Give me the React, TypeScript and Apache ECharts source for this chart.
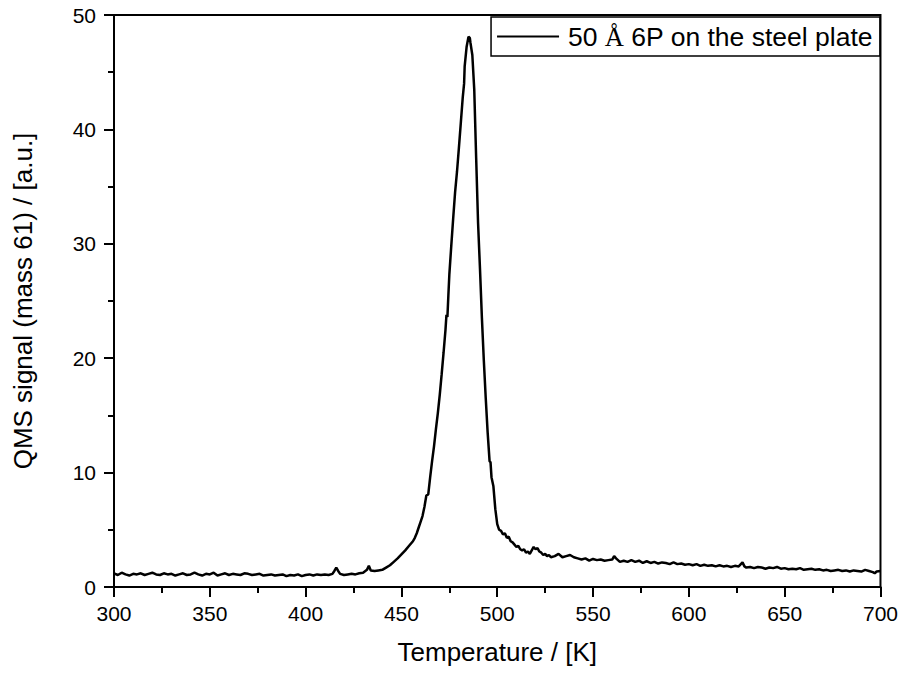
import React, { useEffect, useRef } from "react";
import * as echarts from "echarts";

const temperature: number[] = [
  300, 302, 304, 306, 308, 310, 312, 314, 316, 318, 320, 322, 324, 326, 328, 330, 332, 334, 336, 338,
  340, 342, 344, 346, 348, 350, 352, 354, 356, 358, 360, 362, 364, 366, 368, 370, 372, 374, 376, 378,
  380, 382, 384, 386, 388, 390, 392, 394, 396, 398, 400, 402, 404, 406, 408, 410, 412, 414, 415, 416,
  417, 418, 420, 422, 424, 426, 428, 430, 432, 433, 434, 436, 438, 440, 442, 444, 446, 448, 450, 452,
  454, 456, 457, 458, 459, 460, 461, 462, 463, 464, 465, 466, 467, 468, 469, 470, 471, 472, 473, 473.5,
  474, 474.5, 475, 476, 477, 478, 479, 480, 481, 482, 482.7, 483, 484, 485, 485.7, 486, 487, 488, 489, 490,
  491, 492, 493, 494, 495, 496, 496.5, 497, 498, 499, 500, 501, 502, 503, 504, 505, 506, 507, 508, 509,
  510, 511, 512, 513, 514, 515, 516, 517, 518, 519, 520, 521, 522, 523, 524, 525, 526, 527, 528, 530,
  532, 534, 536, 538, 540, 542, 544, 546, 548, 550, 552, 554, 556, 558, 560, 561, 562, 564, 566, 568,
  570, 572, 574, 576, 578, 580, 582, 584, 586, 588, 590, 592, 594, 596, 598, 600, 602, 604, 606, 608,
  610, 612, 614, 616, 618, 620, 622, 624, 626, 628, 629, 630, 632, 634, 636, 638, 640, 642, 644, 646,
  648, 650, 652, 654, 656, 658, 660, 662, 664, 666, 668, 670, 672, 674, 676, 678, 680, 682, 684, 686,
  688, 690, 692, 694, 696, 697, 698, 700,
];

const signal: number[] = [
  1.2, 1.05, 1.25, 1.1, 1.0, 1.15, 1.1, 1.2, 1.05, 1.15, 1.25, 1.1, 1.05, 1.2, 1.1, 1.15, 1.0, 1.1, 1.2, 1.05,
  1.1, 1.25, 1.1, 1.0, 1.15, 1.1, 1.25, 1.0, 1.1, 1.2, 1.05, 1.15, 1.1, 1.05, 1.2, 1.15, 1.05, 1.1, 1.15, 1.0,
  1.05, 1.1, 1.0, 1.05, 1.1, 0.95, 1.05, 1.0, 1.1, 0.95, 1.05, 1.1, 1.0, 1.1, 1.05, 1.1, 1.05, 1.15, 1.4, 1.7,
  1.4, 1.15, 1.05, 1.1, 1.15, 1.1, 1.2, 1.25, 1.5, 1.85, 1.45, 1.4, 1.45, 1.5, 1.7, 1.9, 2.2, 2.5, 2.85, 3.2,
  3.6, 4.0, 4.3, 4.7, 5.2, 5.7, 6.2, 7.0, 8.0, 8.1, 9.6, 11.0, 12.3, 13.8, 15.2, 16.8, 18.6, 20.5, 22.5, 23.8,
  23.6, 25.5, 27.3, 29.8, 32.2, 34.5, 36.3, 38.4, 40.6, 42.8, 44.0, 45.5, 47.2, 48.1, 48.0, 47.6, 46.5, 43.5, 37.5, 31.8,
  27.8, 23.5, 19.8, 16.5, 13.5, 11.0, 10.9, 9.6, 8.8, 6.8, 5.5, 5.0, 4.9, 4.6, 4.7, 4.3, 4.4, 4.0, 3.9, 3.7,
  3.5, 3.6, 3.3, 3.2, 3.3, 3.0, 3.1, 2.9, 3.2, 3.5, 3.3, 3.4, 3.1, 3.0, 2.8, 2.9, 2.7, 2.8, 2.6, 2.7,
  2.9, 2.6, 2.7, 2.8, 2.6, 2.5, 2.4, 2.5, 2.3, 2.45, 2.35, 2.4, 2.3, 2.35, 2.4, 2.7, 2.5, 2.2, 2.3, 2.2,
  2.35, 2.2, 2.3, 2.1, 2.25, 2.1, 2.2, 2.05, 2.15, 2.1, 2.0, 2.15, 2.0, 2.05, 1.95, 2.0, 1.9, 2.0, 1.85, 1.95,
  1.85, 1.9, 1.8, 1.9, 1.8, 1.85, 1.75, 1.85, 1.8, 2.15, 1.8, 1.7, 1.75, 1.65, 1.75, 1.7, 1.6, 1.7, 1.65, 1.75,
  1.6, 1.65, 1.55, 1.6, 1.55, 1.65, 1.5, 1.55, 1.6, 1.5, 1.55, 1.45, 1.5, 1.4, 1.45, 1.5, 1.4, 1.45, 1.35, 1.45,
  1.4, 1.35, 1.5, 1.4, 1.3, 1.2, 1.35, 1.4,
];

const xTicks = { min: 300, max: 700, interval: 50 };
const yTicks = { min: 0, max: 50, interval: 10 };
const seriesName = "50 Å 6P on the steel plate";
const xTitle = "Temperature / [K]";
const yTitle = "QMS signal (mass 61) / [a.u.]";

const FONT = "'Liberation Sans', Arial, sans-serif";

export default function App() {
  const ref = useRef<HTMLDivElement>(null);
  useEffect(() => {
    if (!ref.current) return;
    const chart = echarts.init(ref.current, undefined, { renderer: "svg" });
    const data = temperature.map((t, i) => [t, signal[i]]);
    const axisCommon = {
      axisLine: { show: true, onZero: false, lineStyle: { color: "#000", width: 2 } },
      axisTick: { show: true, inside: false, length: 10, lineStyle: { color: "#000", width: 2 } },
      minorTick: { show: true, splitNumber: 2, length: 6, lineStyle: { color: "#000", width: 2 } },
      splitLine: { show: false },
      minorSplitLine: { show: false },
    };
    chart.setOption({
      animation: false,
      backgroundColor: "#fff",
      grid: {
        left: 114,
        right: 20,
        top: 15,
        bottom: 90,
        show: true,
        borderColor: "#000",
        borderWidth: 2,
        backgroundColor: "transparent",
      },
      legend: {
        show: true,
        right: 21,
        top: 17,
        orient: "horizontal",
        data: [{ name: seriesName }],
        borderColor: "#000",
        borderWidth: 1.5,
        padding: [6, 7, 6, 6],
        itemWidth: 62,
        itemHeight: 26,
        icon: "path://M0,12 L62,12 L62,14 L0,14 Z",
        itemStyle: { color: "#000" },
        formatter: () => "{a| }{b|50 }{c|Å}{b| 6P on the steel plate}",
        textStyle: {
          color: "#000",
          fontFamily: FONT,
          fontSize: 26,
          rich: {
            a: { fontSize: 26, width: 4, fontFamily: FONT },
            b: { fontSize: 26.5, fontFamily: FONT, color: "#000" },
            c: { fontSize: 26.5, fontFamily: "'Liberation Serif', 'Times New Roman', serif", color: "#000" },
          },
        },
      },
      xAxis: {
        type: "value",
        min: xTicks.min,
        max: xTicks.max,
        interval: xTicks.interval,
        name: xTitle,
        nameLocation: "middle",
        nameGap: 52,
        nameTextStyle: { color: "#000", fontFamily: FONT, fontSize: 26 },
        axisLabel: { color: "#000", fontFamily: FONT, fontSize: 21, margin: 16 },
        ...axisCommon,
      },
      yAxis: {
        type: "value",
        min: yTicks.min,
        max: yTicks.max,
        interval: yTicks.interval,
        name: yTitle,
        nameLocation: "middle",
        nameGap: 78,
        nameTextStyle: { color: "#000", fontFamily: FONT, fontSize: 26 },
        axisLabel: { color: "#000", fontFamily: FONT, fontSize: 21, margin: 18 },
        ...axisCommon,
      },
      series: [
        {
          name: seriesName,
          type: "line",
          data,
          symbol: "none",
          showSymbol: false,
          smooth: false,
          lineStyle: { color: "#000", width: 2.5 },
          itemStyle: { color: "#000" },
        },
      ],
    });
    return () => chart.dispose();
  }, []);
  return (
    <div
      ref={ref}
      style={{ position: "fixed", left: 0, top: 0, width: 901, height: 677, background: "#fff" }}
    />
  );
}
